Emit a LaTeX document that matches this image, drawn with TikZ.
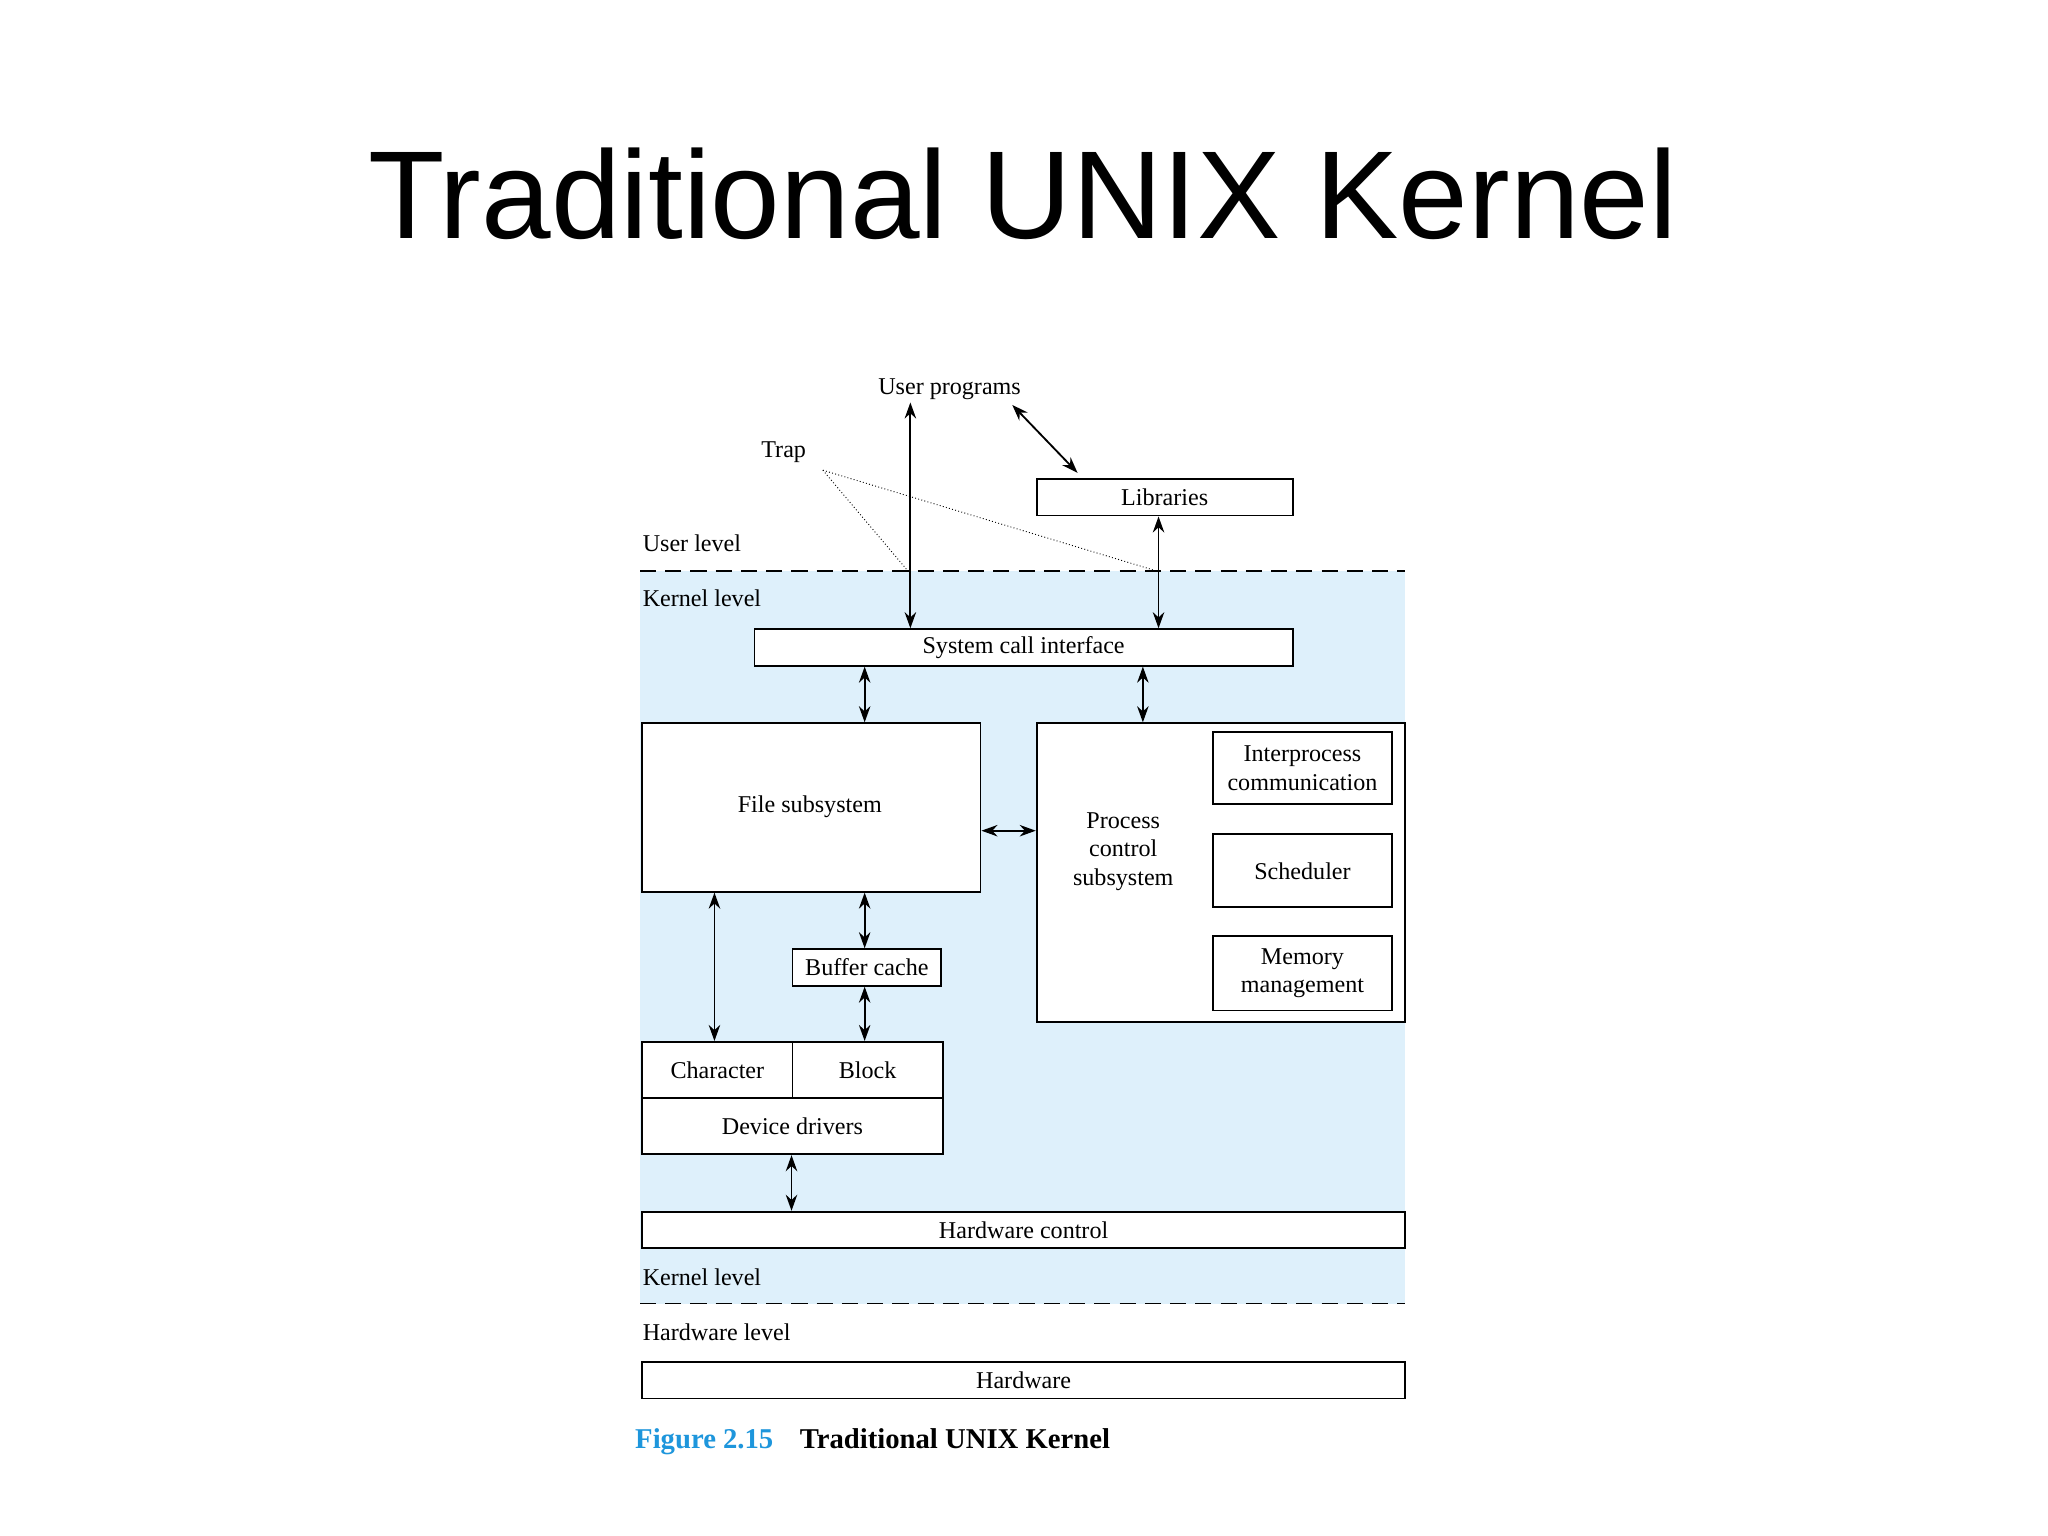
\documentclass[tikz,border=0pt]{standalone}
\usepackage{fontspec}
\setmainfont{Liberation Serif}
\newfontfamily\titlefont{Liberation Sans}
\usetikzlibrary{arrows.meta}
\definecolor{kbg}{RGB}{222,240,251}
\definecolor{figblue}{RGB}{30,150,220}
\begin{document}
\begin{tikzpicture}[x=0.02cm,y=-0.02cm,
  box/.style={draw,thick,inner sep=0,anchor=north west,font=\fontsize{10.5}{12.5}\selectfont},
  lbl/.style={font=\fontsize{10.5}{12.5}\selectfont,inner sep=1pt},
  arr/.style={thick,{Stealth[length=7pt,width=5pt]}-{Stealth[length=7pt,width=5pt]}}]
\useasboundingbox (0,0) rectangle (1568,1176);
\fill[white] (0,0) rectangle (1568,1176);
\fill[kbg] (490,437) rectangle (1076,998);
\node[font=\titlefont\fontsize{54.5}{62}\selectfont] (title) at (783,148) {Traditional UNIX Kernel};
\draw[thick,dashed,dash pattern=on 7pt off 4pt] (490,437) -- (1076,437);
\draw[thick,dashed,dash pattern=on 7pt off 4pt] (490,998) -- (1076,998);
\node[lbl] (up) at (727,298) {User programs};
\node[lbl] (trap) at (600,346) {Trap};
\node[lbl,anchor=west] (ul) at (490,416) {User level};
\node[lbl,anchor=west] (kl1) at (490,458) {Kernel level};
\node[lbl,anchor=west] (kl2) at (490,978) {Kernel level};
\node[lbl,anchor=west] (hl) at (490,1020) {Hardware level};
\node[box,minimum width=196*0.02cm,minimum height=28*0.02cm,fill=white] (lib) at (793,366) {Libraries};
\node[box,minimum width=412*0.02cm,minimum height=28*0.02cm,fill=white] (sci) at (577,481) {System call interface};
\node[box,minimum width=259*0.02cm,minimum height=129*0.02cm,fill=white] (fs) at (491,553) {};
\node[lbl] at (620,618) {File subsystem};
\node[box,minimum width=282*0.02cm,minimum height=229*0.02cm,fill=white] (pc) at (793,553) {};
\node[lbl,align=center] (pct) at (860,652) {Process\\control\\subsystem};
\node[box,minimum width=137*0.02cm,minimum height=55*0.02cm,align=center] (ipc) at (928,560) {Interprocess\\communication};
\node[box,minimum width=137*0.02cm,minimum height=56*0.02cm] (sch) at (928,638) {Scheduler};
\node[box,minimum width=137*0.02cm,minimum height=57*0.02cm,align=center] (mem) at (928,716) {Memory\\management};
\node[box,minimum width=114*0.02cm,minimum height=28*0.02cm,fill=white] (bc) at (606,726) {Buffer cache};
\node[box,minimum width=115*0.02cm,minimum height=43*0.02cm,fill=white] (chr) at (491,797) {Character};
\node[box,minimum width=115*0.02cm,minimum height=43*0.02cm,fill=white] (blk) at (606,797) {Block};
\node[box,minimum width=230*0.02cm,minimum height=43*0.02cm,fill=white] (dd) at (491,840) {Device drivers};
\node[box,minimum width=584*0.02cm,minimum height=28*0.02cm,fill=white] (hc) at (491,927) {Hardware control};
\node[box,minimum width=584*0.02cm,minimum height=28*0.02cm,fill=white] (hw) at (491,1042) {Hardware};
\node[anchor=base west,inner sep=0,font=\fontsize{12.5}{15}\selectfont\bfseries,text=figblue] (fig) at (486,1109) {Figure 2.15};
\node[anchor=base west,inner sep=0,font=\fontsize{12.5}{15}\selectfont\bfseries] (cap) at (612,1109) {Traditional UNIX Kernel};
% arrows
\draw[arr] (697,0 |- up.south) -- (697,0 |- sci.north);
\draw[arr] (887,0 |- lib.south) -- (887,0 |- sci.north);
\draw[arr] (775,310) -- (825,362);
\draw[densely dotted] (630,360) -- (695,437);
\draw[densely dotted] (630,360) -- (885,437);
\draw[arr] (662,0 |- sci.south) -- (662,0 |- fs.north);
\draw[arr] (875,0 |- sci.south) -- (875,0 |- pc.north);
\draw[arr] (fs.east |- 0,636) -- (pc.west |- 0,636);
\draw[arr] (547,0 |- fs.south) -- (547,0 |- chr.north);
\draw[arr] (662,0 |- fs.south) -- (662,0 |- bc.north);
\draw[arr] (662,0 |- bc.south) -- (662,0 |- blk.north);
\draw[arr] (606,0 |- dd.south) -- (606,0 |- hc.north);
\end{tikzpicture}
\end{document}
